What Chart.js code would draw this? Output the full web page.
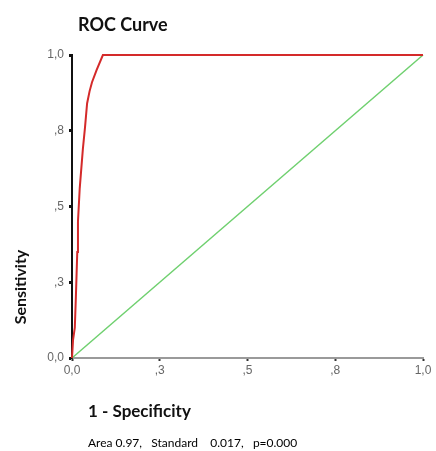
<!DOCTYPE html>
<html><head><meta charset="utf-8">
<script src="https://cdn.jsdelivr.net/npm/chart.js@4"></script>
<style>html,body{margin:0;padding:0;background:#fff}#wrap{width:436px;height:451px;position:relative}</style>
</head><body><div id="wrap"><canvas id="c" width="436" height="451"></canvas></div>
<script>
const chartTitle = "ROC Curve";
const xTitle = "1 - Specificity";
const yTitle = "Sensitivity";
const footnote = "Area 0.97,   Standard    0.017,   p=0.000";
const tickValues = [0, 0.25, 0.5, 0.75, 1.0];
const tickLabels = ["0,0", ",3", ",5", ",8", "1,0"];
const rocFpr = [0, 0.003, 0.008, 0.011, 0.015, 0.017, 0.022, 0.031, 0.037, 0.043, 0.05, 0.057, 0.07, 0.088, 1.0];
const rocTpr = [0, 0.06, 0.1, 0.2, 0.35, 0.45, 0.56, 0.69, 0.76, 0.84, 0.88, 0.91, 0.95, 1.0, 1.0];
const refFpr = [0, 1];
const refTpr = [0, 1];

const labelFor = v => { const i = tickValues.findIndex(t => Math.abs(t - v) < 1e-6); return i >= 0 ? tickLabels[i] : ''; };

const textPlugin = {
  id: 'texts',
  afterDraw(chart) {
    const ctx = chart.ctx;
    ctx.save();
    ctx.fillStyle = '#111';
    ctx.textAlign = 'left';
    ctx.textBaseline = 'alphabetic';
    ctx.font = 'bold 18px Lato';
    ctx.fillText(chartTitle, 78, 31);
    ctx.font = 'bold 17px Lato';
    ctx.fillText(xTitle, 88, 417);
    ctx.font = '12px Lato';
    ctx.fillStyle = '#000';
    ctx.fillText(footnote, 88, 447);
    ctx.translate(26, 287);
    ctx.rotate(-Math.PI / 2);
    ctx.textAlign = 'center';
    ctx.fillStyle = '#111';
    ctx.font = 'bold 16px Lato';
    ctx.fillText(yTitle, 0, 0);
    ctx.restore();
  }
};

new Chart(document.getElementById('c'), {
  type: 'scatter',
  data: {
    datasets: [
      { data: rocFpr.map((x, i) => ({ x, y: rocTpr[i] })), showLine: true, borderColor: '#d42a2a', borderWidth: 2, pointRadius: 0, tension: 0, clip: false },
      { data: refFpr.map((x, i) => ({ x, y: refTpr[i] })), showLine: true, borderColor: '#6fd06f', borderWidth: 1.5, pointRadius: 0, tension: 0, clip: false }
    ]
  },
  options: {
    responsive: false,
    animation: false,
    devicePixelRatio: 1,
    layout: { padding: { left: 0, top: 55, right: 13, bottom: 0 } },
    plugins: { legend: { display: false }, tooltip: { enabled: false }, title: { display: false } },
    scales: {
      x: {
        type: 'linear', min: 0, max: 1,
        afterBuildTicks: s => { s.ticks = tickValues.map(v => ({ value: v })); },
        afterFit: s => { s.height = 93; },
        ticks: { callback: v => labelFor(v), color: '#666', font: { family: 'Liberation Sans', size: 12 }, padding: 2, maxRotation: 0, autoSkip: false },
        grid: { display: true, drawOnChartArea: false, tickLength: 3, tickColor: '#333', tickWidth: 2 },
        border: { display: true, color: '#9a9a9a', width: 2 }
      },
      y: {
        type: 'linear', min: 0, max: 1,
        afterBuildTicks: s => { s.ticks = tickValues.map(v => ({ value: v })); },
        afterFit: s => { s.width = 72; },
        ticks: { callback: v => labelFor(v), color: '#666', font: { family: 'Liberation Sans', size: 12 }, padding: 5, autoSkip: false },
        grid: { display: true, drawOnChartArea: false, tickLength: 3, tickColor: '#111', tickWidth: 3 },
        border: { display: true, color: '#111', width: 2 }
      }
    }
  },
  plugins: [textPlugin]
});
</script></body></html>
